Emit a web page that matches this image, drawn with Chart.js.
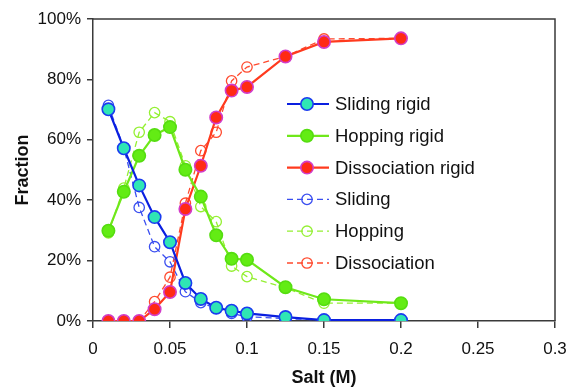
<!DOCTYPE html>
<html>
<head>
<meta charset="utf-8">
<style>
html,body{margin:0;padding:0;background:#fff;}
#wrap{width:578px;height:387px;position:relative;}
</style>
<script src="https://cdn.jsdelivr.net/npm/chart.js@4/dist/chart.umd.min.js"></script>
</head>
<body>
<div id="wrap"><canvas id="c" width="578" height="387"></canvas></div>
<script>
const salt = [0.01,0.02,0.03,0.04,0.05,0.06,0.07,0.08,0.09,0.1,0.125,0.15,0.2];
const slidingRigid      = [70.1,57.2,44.9,34.4,26.1,12.6,7.3,4.4,3.4,2.5,1.3,0.3,0.3];
const hoppingRigid      = [29.9,42.8,54.7,61.6,64.2,50.1,41.2,28.4,20.6,20.3,11.2,7.2,5.9];
const dissociationRigid = [0,0,0,3.9,9.6,37.1,51.4,67.4,76.3,77.5,87.6,92.4,93.6];
const sliding           = [71.4,57.3,37.6,24.6,19.6,9.7,6.1,4.2,2.5,1.4,0.8,0.3,0.3];
const hopping           = [29.2,44.0,62.5,69.0,66.0,51.4,37.9,32.9,18.2,14.7,11.0,5.9,5.9];
const dissociation      = [0,0,0,6.4,14.5,39.0,56.4,62.5,79.5,84.1,87.6,93.4,93.6];
const seriesNames = ["Sliding rigid","Hopping rigid","Dissociation rigid","Sliding","Hopping","Dissociation"];
const xTicks = [0,0.05,0.1,0.15,0.2,0.25,0.3];
const yTicks = [0,20,40,60,80,100];

const pts = arr => salt.map((x,i)=>({x:x,y:arr[i]}));
const FONT = "'Liberation Sans', Arial, sans-serif";

function solid(label, arr, line, fill, border){
  return {label, data:pts(arr), borderColor:line, backgroundColor:fill,
    borderWidth:2.2, pointRadius:6.2, pointBorderWidth:1.6,
    pointBackgroundColor:fill, pointBorderColor:border, tension:0, fill:false,
    _legend:{dash:[]}};
}
function dashed(label, arr, line){
  return {label, data:pts(arr), borderColor:line, backgroundColor:'rgba(0,0,0,0)',
    borderWidth:1.3, borderDash:[6,4], pointRadius:5.2, pointBorderWidth:1.3,
    pointBackgroundColor:'rgba(0,0,0,0)', pointBorderColor:line, tension:0, fill:false,
    _legend:{dash:[6,4]}};
}

const datasets = [
  solid(seriesNames[0], slidingRigid, '#0a1fe0', '#2fe6b4', '#1a3cf0'),
  solid(seriesNames[1], hoppingRigid, '#6fe81a', '#63ec14', '#55dd10'),
  solid(seriesNames[2], dissociationRigid, '#ff3a1e', '#ff2a14', '#d23cc8'),
  dashed(seriesNames[3], sliding, '#3a4ef0'),
  dashed(seriesNames[4], hopping, '#94f032'),
  dashed(seriesNames[5], dissociation, '#ff4a2e')
];

const framePlugin = {
  id:'frame',
  afterDatasetsDraw(chart){
    const {ctx, chartArea:a} = chart;
    ctx.save();
    ctx.strokeStyle = '#3a3a3a';
    ctx.lineWidth = 1.5;
    ctx.beginPath();
    ctx.moveTo(a.left, a.top); ctx.lineTo(a.right, a.top); ctx.lineTo(a.right, a.bottom);
    ctx.stroke();
    ctx.restore();
  },
  afterDraw(chart){
    const ctx = chart.ctx;
    ctx.save();
    const x0 = 287, x1 = 329, xm = 307, xt = 335, y0 = 104, dy = 31.8;
    chart.data.datasets.forEach((ds,i)=>{
      const y = y0 + i*dy;
      ctx.strokeStyle = ds.borderColor;
      ctx.lineWidth = ds.borderWidth;
      ctx.setLineDash(ds._legend.dash);
      ctx.beginPath(); ctx.moveTo(x0,y); ctx.lineTo(x1,y); ctx.stroke();
      ctx.setLineDash([]);
      ctx.beginPath(); ctx.arc(xm,y,ds.pointRadius,0,Math.PI*2);
      ctx.fillStyle = ds.pointBackgroundColor; ctx.fill();
      ctx.lineWidth = ds.pointBorderWidth; ctx.strokeStyle = ds.pointBorderColor; ctx.stroke();
      ctx.fillStyle = '#111';
      ctx.font = '18.5px ' + FONT;
      ctx.textBaseline = 'middle';
      ctx.textAlign = 'left';
      ctx.fillText(ds.label, xt, y+1);
    });
    ctx.restore();
  }
};

new Chart(document.getElementById('c'), {
  type:'line',
  data:{datasets},
  options:{
    responsive:false, animation:false,
    layout:{padding:{top:19,right:23,left:0,bottom:0}},
    plugins:{legend:{display:false}, tooltip:{enabled:false}},
    scales:{
      x:{type:'linear', min:0, max:0.3,
        afterBuildTicks(s){ s.ticks = xTicks.map(v=>({value:v})); },
        afterFit(s){ s.height = 66; },
        border:{display:true, color:'#3a3a3a', width:1.5},
        grid:{drawOnChartArea:false, drawTicks:true, tickLength:7, color:'#3a3a3a', lineWidth:1.5},
        ticks:{color:'#111', font:{family:FONT, size:17}, padding:11, maxRotation:0,
          callback:v=>String(v)},
        title:{display:true, text:'Salt (M)', color:'#111', font:{family:FONT, size:18, weight:'bold', lineHeight:1}, padding:{top:0,bottom:0}}
      },
      y:{type:'linear', min:0, max:100,
        afterBuildTicks(s){ s.ticks = yTicks.map(v=>({value:v})); },
        afterFit(s){ s.width = 93; },
        border:{display:true, color:'#3a3a3a', width:1.5},
        grid:{drawOnChartArea:false, drawTicks:true, tickLength:6, color:'#3a3a3a', lineWidth:1.5},
        ticks:{color:'#111', font:{family:FONT, size:17}, padding:6, callback:v=>v+'%'},
        title:{display:true, text:'Fraction', color:'#111', font:{family:FONT, size:18, weight:'bold', lineHeight:1}, padding:{top:14,bottom:0}}
      }
    }
  },
  plugins:[framePlugin]
});
</script>
</body>
</html>
